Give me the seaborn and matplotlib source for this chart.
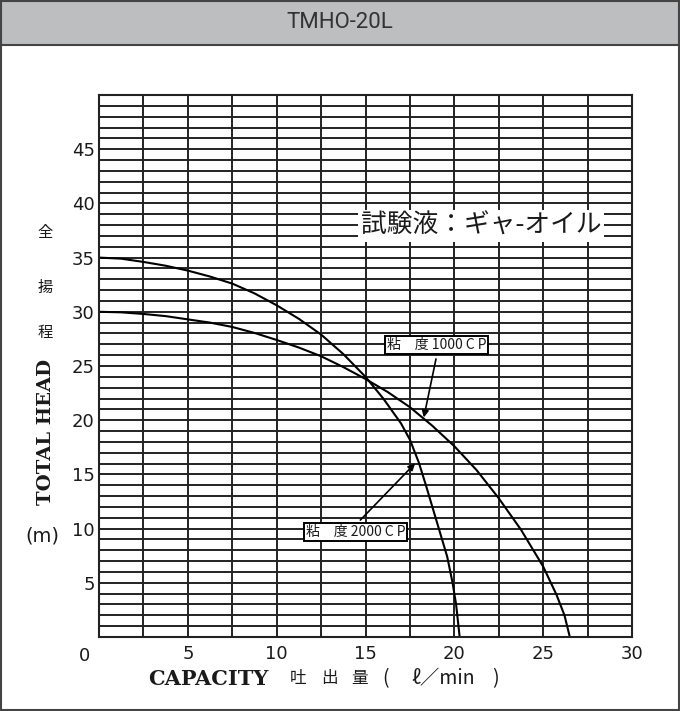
import numpy as np
import pandas as pd
import seaborn as sns
import matplotlib.pyplot as plt
from matplotlib.patches import Rectangle

cap_1000 = [0, 1.25, 2.5, 3.75, 5, 6.25, 7.5, 8.75, 10, 11.25, 12.5, 13.75, 15, 16.25,
            17.5, 18.75, 20, 21.25, 22.5, 23.75, 25, 25.75, 26.2, 26.5]
head_1000 = [30, 29.95, 29.8, 29.6, 29.3, 29.0, 28.6, 28.05, 27.4, 26.7, 25.9, 24.9, 23.8, 22.6,
             21.2, 19.5, 17.6, 15.4, 12.8, 9.9, 6.5, 3.9, 2.0, 0]

cap_2000 = [0, 1.25, 2.5, 3.75, 5, 6.25, 7.5, 8.75, 10, 11.25, 12.5, 13.75, 15, 16.0,
            17.0, 17.5, 18.0, 18.4, 18.8, 19.2, 19.6, 19.9, 20.1, 20.3]
head_2000 = [35, 34.9, 34.6, 34.25, 33.8, 33.25, 32.6, 31.7, 30.6, 29.35, 27.9, 26.1, 24.0, 22.0,
             19.7, 18.2, 16.1, 14.0, 11.8, 9.6, 7.4, 5.0, 3.0, 0]

xticks = [5, 10, 15, 20, 25, 30]
yticks = [5, 10, 15, 20, 25, 30, 35, 40, 45]

df = pd.concat([
    pd.DataFrame({'cap': cap_1000, 'head': head_1000, 'cp': '1000'}),
    pd.DataFrame({'cap': cap_2000, 'head': head_2000, 'cp': '2000'}),
])

sns.set_style('white')
plt.rcParams['font.family'] = ['DejaVu Sans', 'Noto Sans CJK JP']
jp = ['Noto Sans CJK JP', 'DejaVu Sans']
ink = '#1a1a1a'

fig = plt.figure(figsize=(6.8, 7.11), dpi=100)
ax = fig.add_axes([0.1456, 0.1041, 0.7838, 0.7623])

sns.lineplot(data=df, x='cap', y='head', hue='cp', palette=['black', 'black'],
             sort=False, estimator=None, linewidth=1.5, legend=False, ax=ax)

ax.set_xlim(0, 30)
ax.set_ylim(0, 50)
ax.set_xticks(xticks)
ax.set_yticks(yticks)
ax.set_xticks(np.arange(0, 30.1, 2.5), minor=True)
ax.set_yticks(np.arange(0, 50.1, 1), minor=True)
ax.grid(which='both', color='#222222', linewidth=1.4)
ax.tick_params(which='both', length=0)
ax.tick_params(axis='x', pad=6, labelsize=13, labelcolor=ink)
ax.tick_params(axis='y', pad=3, labelsize=13, labelcolor=ink)
for s in ax.spines.values():
    s.set_color('#222222')
    s.set_linewidth(1.5)
ax.set_xlabel('')
ax.set_ylabel('')
ax.text(-0.8, -0.9, '0', ha='center', va='top', fontsize=13, color=ink)

# test fluid label
ax.text(21.5, 37.9, '試験液：ギャ-オイル', family=jp, fontsize=18.5, ha='center', va='center',
        color=ink, bbox=dict(facecolor='white', edgecolor='none', pad=2))

# viscosity callouts
ax.text(19.0, 26.9, '粘　度 1000 C P', family=jp, fontsize=10, ha='center', va='center',
        color=ink, bbox=dict(facecolor='white', edgecolor='black', linewidth=1.4, pad=1.5))
ax.annotate('', xy=(18.25, 20.0), xytext=(19.0, 25.9),
            arrowprops=dict(arrowstyle='-|>', color='black', lw=1.2, mutation_scale=10))
ax.text(14.43, 9.69, '粘　度 2000 C P', family=jp, fontsize=10, ha='center', va='center',
        color=ink, bbox=dict(facecolor='white', edgecolor='black', linewidth=1.4, pad=1.5))
ax.annotate('', xy=(17.9, 16.2), xytext=(14.6, 10.6),
            arrowprops=dict(arrowstyle='-|>', color='black', lw=1.2, mutation_scale=10))

# y axis title
fig.text(0.067, (711 - 233) / 711, '全', family=jp, fontsize=11, ha='center', va='center', color=ink)
fig.text(0.067, (711 - 287) / 711, '揚', family=jp, fontsize=11, ha='center', va='center', color=ink)
fig.text(0.067, (711 - 332) / 711, '程', family=jp, fontsize=11, ha='center', va='center', color=ink)
fig.text(0.068, (711 - 432) / 711, 'TOTAL HEAD', family='DejaVu Serif', fontweight='bold',
         fontsize=14, rotation=90, ha='center', va='center', color=ink)
fig.text(0.063, (711 - 536) / 711, '(m)', fontsize=14, ha='center', va='center', color=ink)

# x axis title
ty = (711 - 679) / 711
fig.text(148 / 680, ty, 'CAPACITY', family='DejaVu Serif', fontweight='bold',
         fontsize=15, ha='left', va='center', color=ink)
for ch, px in zip(['吐', '出', '量'], [298, 329, 360]):
    fig.text(px / 680, ty, ch, family=jp, fontsize=12, ha='center', va='center', color=ink)
fig.text(385 / 680, ty, '(', family=jp, fontsize=14, ha='center', va='center', color=ink)
fig.text(443 / 680, ty, 'ℓ／min', family=jp, fontsize=14, ha='center', va='center', color=ink)
fig.text(495 / 680, ty, ')', family=jp, fontsize=14, ha='center', va='center', color=ink)

# title band and outer frame
fig.patches.append(Rectangle((0.001, 0.001), 0.998, 0.998, transform=fig.transFigure,
                             facecolor='none', edgecolor='#444444', linewidth=1.5))
fig.patches.append(Rectangle((0.001, (711 - 45) / 711), 0.998, 45 / 711 - 0.001,
                             transform=fig.transFigure, facecolor='#bdbec0',
                             edgecolor='#444444', linewidth=1.5))
fig.text(0.5, (711 - 23) / 711, 'TMHO-20L', family='Roboto', fontsize=16,
         ha='center', va='center', color='#333333')

fig.savefig('out.png', dpi=100)
